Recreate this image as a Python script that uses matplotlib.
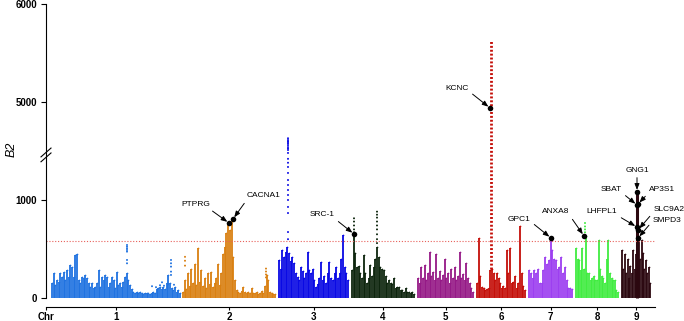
import numpy as np
import matplotlib
matplotlib.use("Agg")
import matplotlib.pyplot as plt

plt.rcParams['font.family'] = ['Liberation Sans', 'DejaVu Sans']

# chromosome layout (genomic position units)
chrom_names = ['1', '2', '3', '4', '5', '6', '7', '8', '9']
chrom_start = [0, 131, 227, 300, 366, 425, 477, 524, 570]
chrom_end = [128, 223, 296, 362, 421, 473, 520, 566, 598]
chrom_colors = ['#1f72e0', '#d97f10', '#0808e4', '#0c240c', '#951886',
                '#c40e08', '#9c3ef0', '#40ec40', '#2c0810']

# B2 envelope per chromosome, evenly spaced along each chromosome
b2_chr1 = [150, 252, 133, 184, 167, 252, 218, 269, 184, 286, 218, 337, 320, 218, 439, 449,
           184, 150, 218, 201, 235, 201, 150, 116, 150, 99, 116, 150, 286, 116, 218, 184,
           235, 218, 116, 150, 218, 184, 99, 269, 133, 150, 116, 167, 218, 252, 184, 133,
           88, 65, 48, 65, 48, 65, 48, 41, 48, 48, 54, 41, 48, 65, 48, 88, 99, 116, 88,
           116, 95, 150, 235, 150, 99, 82, 116, 65, 82, 54]
b2_chr2 = [60, 180, 90, 250, 120, 300, 150, 350, 130, 510,
           160, 290, 120, 200, 100, 250, 140, 270, 110, 150,
           200, 350, 130, 260, 450, 520, 660, 765, 690, 800,
           420, 180, 80, 60, 50, 70, 110, 60, 50, 60,
           50, 100, 55, 50, 60, 45, 55, 70, 50, 120,
           230, 180, 60, 50, 45, 40]
b2_chr3 = [388, 300, 490, 420, 470, 524, 456, 380, 420, 354, 250, 218, 180, 320, 280, 200,
           250, 473, 286, 250, 300, 184, 116, 140, 200, 370, 184, 220, 150, 250, 370, 200,
           184, 250, 320, 200, 252, 400, 643, 320, 250, 184]
b2_chr4 = [286, 653, 456, 320, 330, 250, 200, 440, 250, 150, 200, 340, 220, 320, 400, 524,
           420, 320, 300, 286, 220, 150, 185, 150, 140, 200, 100, 115, 110, 80, 80, 60,
           100, 60, 65, 50, 65, 40]
b2_chr5 = [200, 150, 320, 200, 340, 180, 250, 470, 220, 265, 180, 450, 200, 280, 180, 230,
           400, 200, 250, 150, 300, 200, 320, 180, 220, 470, 200, 245, 180, 355, 200, 150,
           100, 60]
b2_chr6 = [150, 610, 220, 115, 100, 80, 90, 100, 285, 300, 250, 180, 250, 200, 150, 100,
           120, 100, 490, 250, 505, 150, 160, 220, 100, 150, 730, 250, 120, 80]
b2_chr7 = [285, 250, 200, 285, 250, 300, 150, 150, 286, 420, 350, 390, 612, 490, 400, 390,
           300, 320, 420, 250, 320, 184, 100, 99, 90]
b2_chr8 = [505, 400, 390, 286, 505, 300, 633, 250, 250, 185, 200, 220, 185, 185, 590, 300,
           220, 200, 150, 400, 590, 250, 200, 180, 185, 80, 60]
b2_chr9 = [490, 300, 450, 250, 400, 200, 330, 250, 490, 300, 450, 1082, 600, 400, 590, 455,
           300, 390, 250, 320, 150]
b2_values = [b2_chr1, b2_chr2, b2_chr3, b2_chr4, b2_chr5, b2_chr6, b2_chr7, b2_chr8, b2_chr9]

# isolated points above the envelopes (position, B2)
extra_pos = ([75] * 7 + [119] * 5 + [100, 104, 108, 112, 116, 122, 110]
             + [133] * 3 + [214] * 4
             + [236] * 23
             + [302] * 5 + [325] * 9
             + [533] * 4)
extra_val = ([541, 524, 507, 490, 473, 388, 354] + [388, 354, 320, 269, 235]
             + [120, 110, 130, 125, 140, 135, 160]
             + [420, 380, 330] + [300, 270, 240, 210]
             + [4630, 4612, 4600, 4590, 4575, 4560, 4540, 4525, 4510, 4480, 1420, 1380,
                1337, 1276, 1204, 1153, 1102, 1051, 1000, 929, 867, 673, 600]
             + [813, 780, 740, 700, 670] + [881, 850, 820, 780, 740, 700, 650, 600, 560]
             + [765, 730, 700, 670])
extra_chr = ([0] * 19 + [1] * 7 + [2] * 23 + [3] * 14 + [7] * 4)

# KCNC column on chr 6 (position, low, high)
kcnc_pos, kcnc_lo, kcnc_hi = 439, 300, 5630

# labelled genes: name, position, B2, label position, label B2, arrow anchor on label
genes = ['PTPRG', 'CACNA1', 'SRC-1', 'KCNC', 'GPC1', 'ANXA8',
         'GNG1', 'SBAT', 'AP3S1', 'LHFPL1', 'SLC9A2', 'SMPD3']
gene_pos = [177, 181, 302, 438, 499, 532, 585, 585, 586, 585, 586, 586]
gene_b2 = [765, 806, 653, 4939, 612, 633, 1082, 949, 959, 724, 694, 612]
label_pos = [144, 212, 270, 405, 467, 504, 585, 559, 610, 550, 617, 615]
label_b2 = [959, 1041, 847, 5133, 796, 878, 1306, 1112, 1112, 878, 898, 786]
label_rel = [(0.9, 0), (0, 0), (1, 0), (1, 0.2), (1, 0.3), (1, 0),
             (0.5, 0), (1, 0), (0, 0), (1, 0), (0, 0.2), (0, 0.5)]

threshold = 580
GAP_LO, GAP_HI = 1460, 4460


def squash(v):
    v = np.asarray(v, dtype=float)
    return np.where(v >= GAP_HI, v - (GAP_HI - GAP_LO), v)


fig = plt.figure(figsize=(6.84, 3.21), dpi=100)
ax = fig.add_axes([46 / 684, 14 / 321, 609 / 684, 303 / 321])

for i in range(len(chrom_names)):
    xs = np.linspace(chrom_start[i], chrom_end[i], len(b2_values[i]))
    ys = squash(b2_values[i])
    ax.vlines(xs, 0, ys, color=chrom_colors[i], lw=1.3)
    ax.scatter(xs, ys, s=1.5, color=chrom_colors[i], lw=0)

ex_x = np.array(extra_pos)
ex_y = squash(extra_val)
ex_c = [chrom_colors[c] for c in extra_chr]
ax.scatter(ex_x, ex_y, s=2.0, c=ex_c, lw=0)

# dotted column of KCNC hits
ax.vlines(kcnc_pos, kcnc_lo, squash(kcnc_hi), color=chrom_colors[5], lw=2.0,
          linestyles=(0, (0.7, 0.7)))
# thick GNG1 column on chr 9
ax.vlines(gene_pos[6], 0, gene_b2[6], color=chrom_colors[8], lw=2.2)

ax.axhline(threshold, color='#e8605a', lw=0.8, ls=(0, (1, 1.6)))

ax.scatter(gene_pos, squash(gene_b2), s=16, color='black', zorder=5, lw=0)
for i in range(len(genes)):
    ax.annotate(genes[i], xy=(gene_pos[i], squash(gene_b2[i])),
                xytext=(label_pos[i], squash(label_b2[i])),
                ha='center', va='center', fontsize=6, annotation_clip=False,
                arrowprops=dict(arrowstyle='-|>,head_length=0.45,head_width=0.18',
                                color='black', lw=0.7, relpos=label_rel[i],
                                shrinkA=1, shrinkB=1.5, mutation_scale=8))

ax.set_xlim(-6, 603)
ax.set_ylim(-92, 3000)

centers = [(s + e) / 2 for s, e in zip(chrom_start, chrom_end)]
ax.set_xticks([-6] + centers)
ax.set_xticklabels(['Chr'] + chrom_names, fontweight='bold', fontsize=7)
ytick_vals = [0, 1000, 5000, 6000]
ax.set_yticks(squash(ytick_vals))
ax.set_yticklabels([str(v) for v in ytick_vals], fontweight='bold', fontsize=7)

ax.spines['top'].set_visible(False)
ax.spines['right'].set_visible(False)
ax.spines['left'].set_bounds(0, 3000)
ax.spines['left'].set_linewidth(0.8)
ax.spines['bottom'].set_linewidth(0.8)
ax.tick_params(axis='y', length=3.5, width=0.8, pad=3)
ax.tick_params(axis='x', length=2.5, width=0.8, pad=1)

# axis break marks
for y0 in (1390, 1440):
    ax.plot([-11, -1], [y0, y0 + 90], color='black', lw=0.8, clip_on=False)

fig.text(12 / 684, 1 - 149 / 321, 'B2', rotation=90, style='italic', fontsize=9,
         ha='center', va='center')

fig.savefig('out.png', dpi=100)
